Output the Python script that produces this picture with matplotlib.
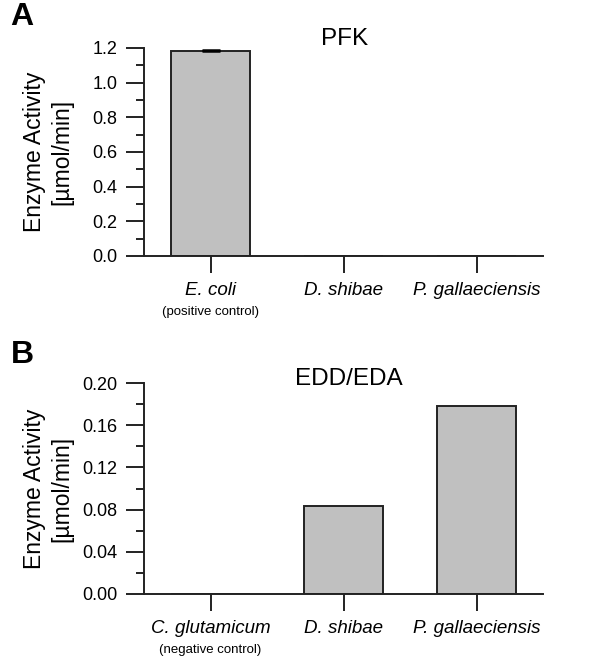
import matplotlib
matplotlib.use("Agg")
import matplotlib.pyplot as plt
from matplotlib.ticker import MultipleLocator
import matplotlib.transforms as mtransforms

plt.rcParams['font.family'] = ['Liberation Sans', 'DejaVu Sans']

# ---- data ----
cats_a = ["E. coli", "D. shibae", "P. gallaeciensis"]
vals_a = [1.185, 0.0, 0.0]
err_a = [0.003, 0.0, 0.0]
notes_a = ["(positive control)", "", ""]
title_a = "PFK"
yticks_a = [0.0, 0.2, 0.4, 0.6, 0.8, 1.0, 1.2]
yticklabels_a = ["0.0", "0.2", "0.4", "0.6", "0.8", "1.0", "1.2"]

cats_b = ["C. glutamicum", "D. shibae", "P. gallaeciensis"]
vals_b = [0.0, 0.083, 0.178]
notes_b = ["(negative control)", "", ""]
title_b = "EDD/EDA"
yticks_b = [0.00, 0.04, 0.08, 0.12, 0.16, 0.20]
yticklabels_b = ["0.00", "0.04", "0.08", "0.12", "0.16", "0.20"]

ylabel = "Enzyme Activity\n[µmol/min]"

W, H = 600, 665
fig = plt.figure(figsize=(6.0, 6.65), dpi=100)

bar_color = "#c0c0c0"
edge = "#222222"
lw = 1.4


def panel(rect, cats, vals, notes, yticks, yticklabels, minor_step, ymax,
          title, title_xy, letter, letter_xy, err=None):
    ax = fig.add_axes(rect)
    x = list(range(len(cats)))
    ax.bar(x, vals, width=0.6, color=bar_color, edgecolor=edge, linewidth=lw, zorder=2)
    if err is not None:
        ax.errorbar(x[0], vals[0], yerr=err[0], fmt='none', ecolor='black',
                    elinewidth=1.0, capsize=6.5, capthick=1.8, zorder=3)
    ax.set_xlim(-0.5, 2.5)
    ax.set_ylim(0, ymax)
    for s in ['top', 'right']:
        ax.spines[s].set_visible(False)
    for s in ['left', 'bottom']:
        ax.spines[s].set_linewidth(lw)
        ax.spines[s].set_color(edge)
    ax.set_yticks(yticks)
    ax.set_yticklabels(yticklabels)
    ax.yaxis.set_minor_locator(MultipleLocator(minor_step))
    ax.set_xticks(x)
    ax.set_xticklabels(cats, fontstyle='italic')
    ax.tick_params(axis='y', which='major', direction='out', length=13, width=lw,
                   labelsize=13, pad=6, color=edge)
    ax.tick_params(axis='y', which='minor', direction='out', length=6, width=lw, color=edge)
    ax.tick_params(axis='x', which='major', direction='out', length=12.5, width=lw,
                   labelsize=13.5, pad=6, color=edge)
    ax.tick_params(axis='x', which='minor', length=0)
    trans = mtransforms.blended_transform_factory(ax.transData, ax.transAxes)
    for xi, n in zip(x, notes):
        if n:
            ax.annotate(n, xy=(xi, 0), xycoords=trans, xytext=(0, -40.5),
                        textcoords='offset points', ha='center', va='center',
                        fontsize=9.5)
    ax.text(title_xy[0], title_xy[1], title, transform=trans, ha='center', va='center',
            fontsize=17.5)
    fig.text(letter_xy[0] / W, 1 - letter_xy[1] / H, letter, ha='center', va='center',
             fontsize=23, fontweight='bold')
    yc = rect[1] + rect[3] / 2
    fig.text(48 / W, yc, ylabel, rotation=90, ha='center', va='center',
             fontsize=16.5, linespacing=1.25, multialignment='center')
    return ax


left = 144 / W
width = (543 - 144) / W
rect_a = [left, 1 - 256 / H, width, (256 - 48) / H]
rect_b = [left, 1 - 594 / H, width, (594 - 383) / H]

panel(rect_a, cats_a, vals_a, notes_a, yticks_a, yticklabels_a, 0.1, 1.2,
      title_a, (1.01, 1.045), "A", (22, 17), err=err_a)
panel(rect_b, cats_b, vals_b, notes_b, yticks_b, yticklabels_b, 0.02, 0.20,
      title_b, (1.04, 1.02), "B", (22, 355))

fig.savefig("out.png", dpi=100)
